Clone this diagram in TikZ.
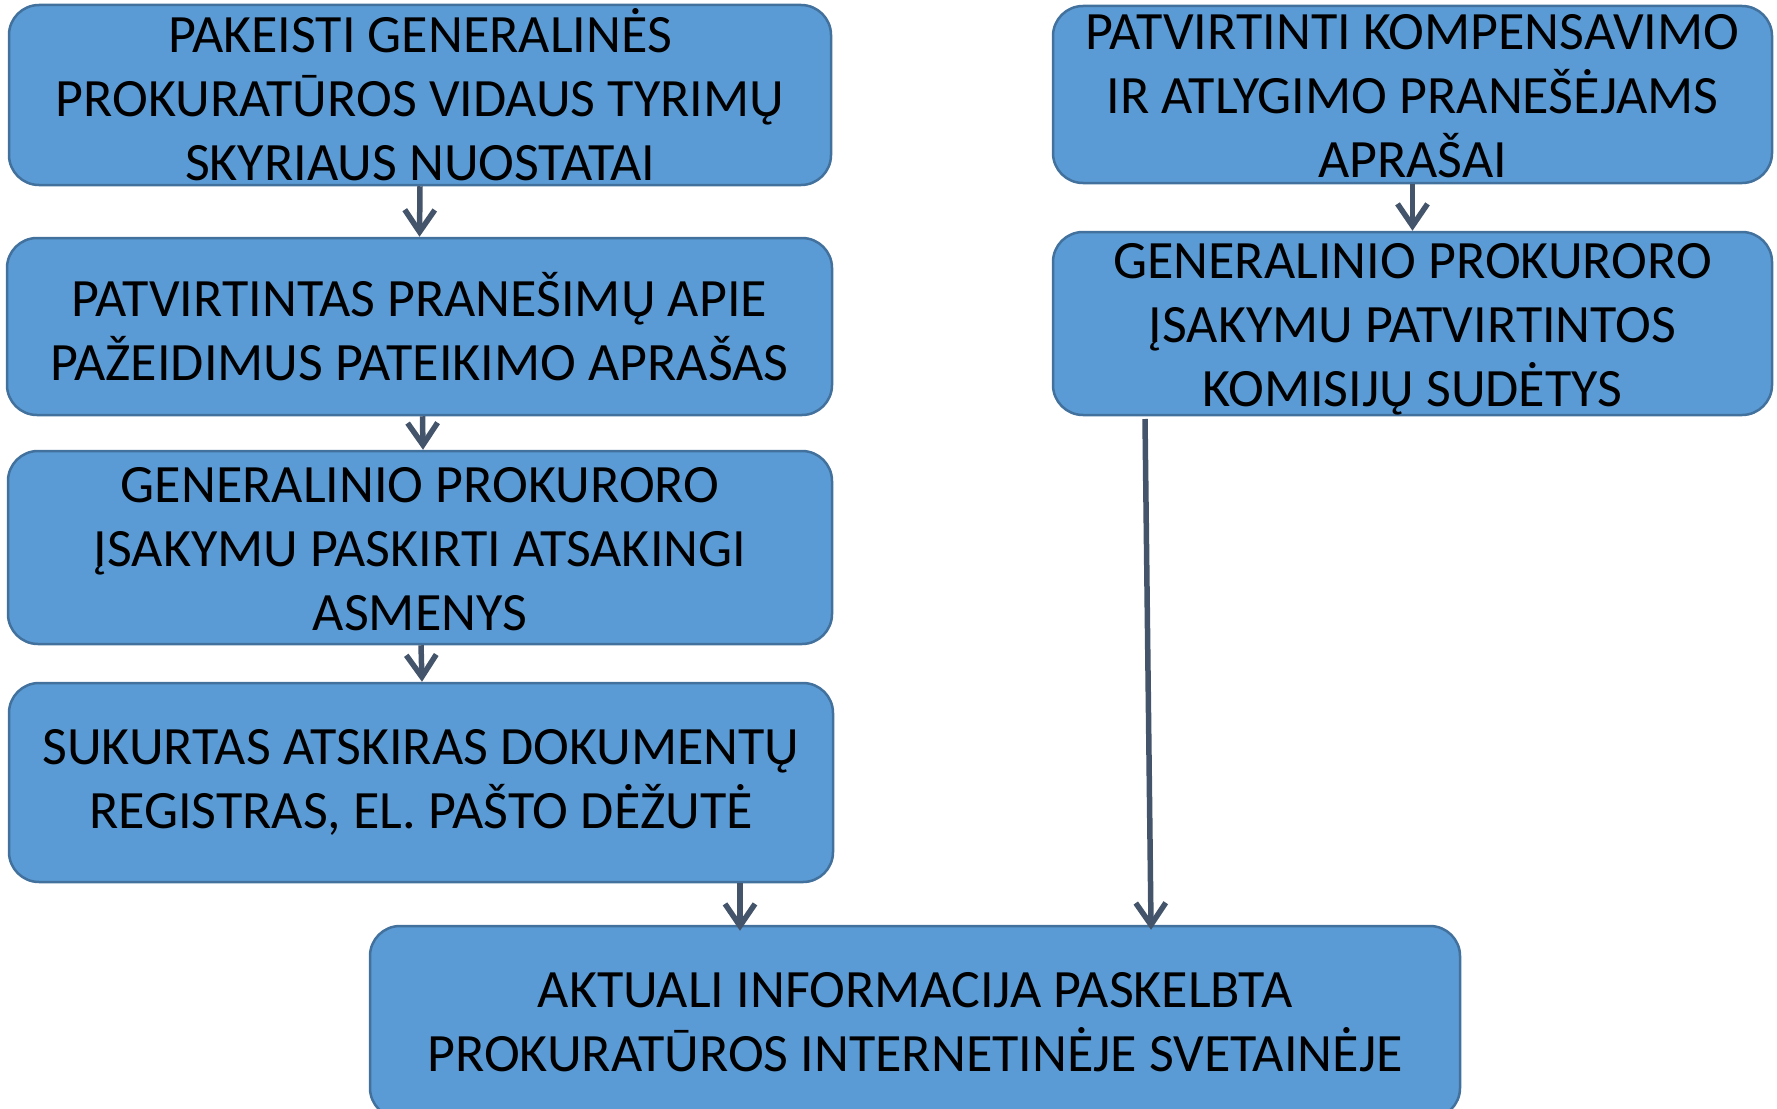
\documentclass[tikz,border=0pt]{standalone}
\usepackage{fontspec}
\setmainfont{Carlito}
\usetikzlibrary{arrows.meta}
\definecolor{boxfill}{HTML}{5B9BD5}
\definecolor{boxline}{HTML}{41719C}
\definecolor{arrowcol}{HTML}{44546A}
\begin{document}
\begin{tikzpicture}[x=1pt,y=-1pt,
  box/.style={draw=boxline, fill=boxfill, line width=2.5pt, rounded corners=30pt,
    inner sep=0pt, align=center, text=black,
    font=\fontsize{54}{64}\selectfont},
  lbl/.style={inner sep=0pt, align=center, text=black,
    font=\fontsize{54}{64}\selectfont},
  arr/.style={draw=arrowcol, line width=5.5pt,
    -{Straight Barb[length=22pt,width=30pt,line width=5.5pt]}}]
\useasboundingbox (0,0) rectangle (1777,1108);
\begin{scope}
\clip (0,0) rectangle (1777,1108);
\node[box, minimum width=822pt, minimum height=180pt] (b1) at (420,95)
  {PAKEISTI GENERALINĖS\\PROKURATŪROS VIDAUS TYRIMŲ\\SKYRIAUS NUOSTATAI};
\node[box, minimum width=825pt, minimum height=177pt] (b2) at (419.5,326.5)
  {PATVIRTINTAS PRANEŠIMŲ APIE\\PAŽEIDIMUS PATEIKIMO APRAŠAS};
\node[box, minimum width=824pt, minimum height=193pt] (b3) at (420,547.5) {};
\node[lbl] (t3) at ([yshift=-2pt]b3.center)
  {GENERALINIO PROKURORO\\ĮSAKYMU PASKIRTI ATSAKINGI\\ASMENYS};
\node[box, minimum width=824pt, minimum height=199pt] (b4) at (421,782.5)
  {SUKURTAS ATSKIRAS DOKUMENTŲ\\REGISTRAS, EL. PAŠTO DĖŽUTĖ};
\node[box, minimum width=1090pt, minimum height=192pt] (b5) at (915,1022)
  {AKTUALI INFORMACIJA PASKELBTA\\PROKURATŪROS INTERNETINĖJE SVETAINĖJE};
\node[box, minimum width=719pt, minimum height=177pt] (b6) at (1412.5,94.5) {};
\node[lbl] (t6) at ([yshift=-2pt]b6.center)
  {PATVIRTINTI KOMPENSAVIMO\\IR ATLYGIMO PRANEŠĖJAMS\\APRAŠAI};
\node[box, minimum width=719pt, minimum height=183pt] (b7) at (1412.5,323.5) {};
\node[lbl] (t7) at ([yshift=-6pt]b7.center)
  {GENERALINIO PROKURORO\\ĮSAKYMU PATVIRTINTOS\\KOMISIJŲ SUDĖTYS};
\coordinate (x4) at (740,0);
\coordinate (s7) at (1145,419);
\coordinate (x7) at (1151,0);
\draw[arr] (b1.south) -- (b2.north);
\draw[arr] ([xshift=3pt]b2.south) -- ([xshift=3pt]b3.north);
\draw[arr] ([xshift=1pt]b3.south) -- ([xshift=1pt]b4.north);
\draw[arr, shorten >=-6pt] (b4.south -| x4) -- (b5.north -| x4);
\draw[arr] (b6.south) -- (b7.north);
\draw[arr, shorten >=-5pt] (s7) -- (b5.north -| x7);
\end{scope}
\end{tikzpicture}
\end{document}
